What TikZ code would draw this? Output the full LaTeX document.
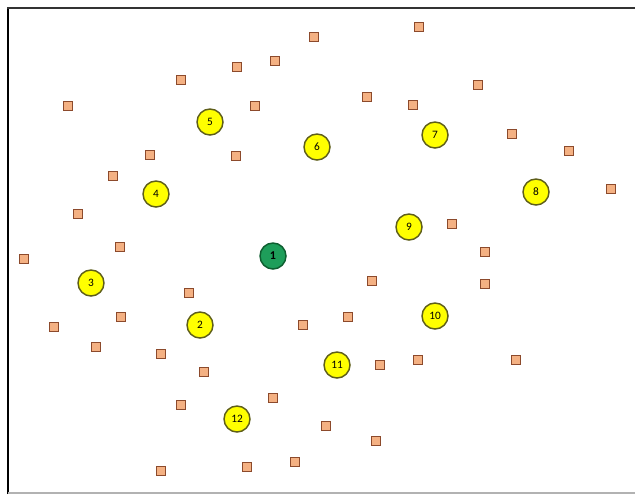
\documentclass[tikz,border=0pt]{standalone}
\usepackage{fontspec}
\setmainfont{Carlito}
\definecolor{sqfill}{HTML}{F4B183}
\definecolor{sqdraw}{HTML}{8C4A2C}
\definecolor{cyel}{HTML}{FFFF00}
\definecolor{cyeld}{HTML}{5E5E1A}
\definecolor{cgreen}{HTML}{1E9E5A}
\definecolor{cgreend}{HTML}{0E5E30}
\tikzset{
  sq/.style={draw=sqdraw, fill=sqfill, line width=1pt, minimum size=6.8pt, inner sep=0pt, rectangle},
  yc/.style={draw=cyeld, fill=cyel, line width=1.1pt, circle, minimum size=19.5pt, inner sep=0pt, font=\fontsize{8.5}{8.5}\selectfont},
  gc/.style={draw=cgreend, fill=cgreen, line width=1.1pt, circle, minimum size=19.5pt, inner sep=0pt, font=\fontsize{9}{9}\selectfont\bfseries},
}
\begin{document}
\begin{tikzpicture}[x=0.75pt,y=-0.75pt]
\useasboundingbox (0,0) rectangle (635,494);
\fill[white] (0,0) rectangle (635,494);
\draw[black, line width=2pt] (8,494) -- (8,7.5);
\draw[black!80, line width=1.5pt] (7,7.5) -- (635,7.5);
\draw[black!30, line width=1pt] (8,493) -- (635,493);
% squares
\foreach \x/\y [count=\i] in {68/106,181/80,237/67,275/61,314/37,419/27,478/85,367/97,413/105,255/106,512/134,569/151,611/189,150/155,236/156,113/176,78/214,120/247,24/259,452/224,485/252,485/284,372/281,189/293,121/317,54/327,96/347,303/325,348/317,161/354,204/372,380/365,418/360,516/360,181/405,273/398,326/426,376/441,161/471,247/467,295/462}
  \node[sq] (s\i) at (\x,\y) {};
% circles
\node[gc] (c1) at (273,256) {1};
\node[yc] (c2) at (200,325) {2};
\node[yc] (c3) at (91,283) {3};
\node[yc] (c4) at (156,194) {4};
\node[yc] (c5) at (210,122) {5};
\node[yc] (c6) at (317,147) {6};
\node[yc] (c7) at (435,135) {7};
\node[yc] (c8) at (536,192) {8};
\node[yc] (c9) at (409,227) {9};
\node[yc] (c10) at (435,316) {10};
\node[yc] (c11) at (337,365) {11};
\node[yc] (c12) at (237,419) {12};
\end{tikzpicture}
\end{document}
